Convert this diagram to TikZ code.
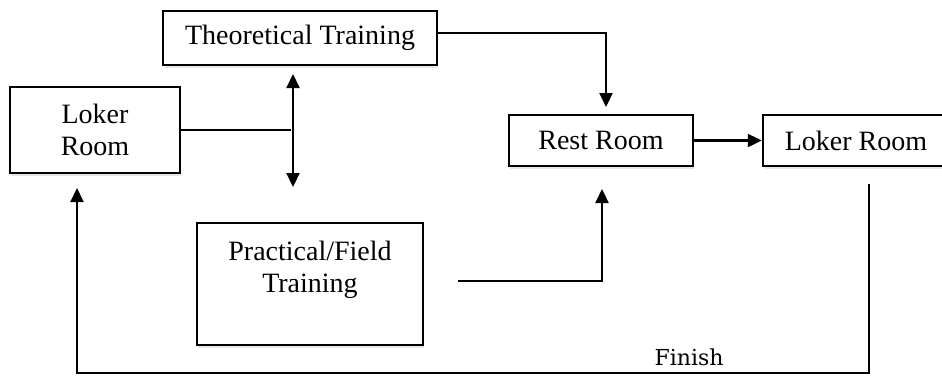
\documentclass[tikz,border=0pt]{standalone}
\usepackage{fontspec}
\setmainfont{Liberation Serif}
\newfontfamily\finishfont{DejaVu Serif}
\usetikzlibrary{arrows.meta,shadows}
\tikzset{
  roombox/.style={draw, line width=2.4pt, fill=white, align=center,
    font=\fontsize{28}{32}\selectfont,
    drop shadow={opacity=0.2, shadow xshift=1pt, shadow yshift=-3pt}},
  flow/.style={line width=2.2pt},
  flowarrow/.style={line width=2.2pt, -{Triangle[length=14pt,width=13pt]}},
}
\begin{document}
\begin{tikzpicture}[x=1pt, y=-1pt]
      \useasboundingbox (0,0) rectangle (942,376);
      %
      \node[roombox, minimum width=274, minimum height=54] (theo) at (300,38) {Theoretical Training};
      \node[roombox, minimum width=170, minimum height=86] (lokerL) at (95,130) {Loker\\Room};
      \node[roombox, minimum width=184, minimum height=51] (rest) at (601,140.5) {Rest Room};
      \node[roombox, minimum width=186, minimum height=51] (lokerR) at (856,140.5) {Loker Room};
      \node[roombox, minimum width=226, minimum height=122] (prac) at (310,284) {Practical/Field\\Training\\[3pt]\mbox{}};
      \node[font=\finishfont\fontsize{22}{26}\selectfont] (finish) at (689,357) {Finish};
      %
      \coordinate (restin) at (606,107);
      \coordinate (restup) at (602,189);
      \coordinate (pracout) at (458,281);
      \coordinate (mid) at (291,130);
      \coordinate (dtop) at (293,74);
      \coordinate (dbot) at (293,187);
      \coordinate (lokout) at (869,184);
      \coordinate (lokin) at (77,188);
      \coordinate (base) at (0,373);
      %
      \draw[flowarrow] ([yshift=5pt]theo.east) -| (restin);
      \draw[flowarrow] (rest.east) -- (lokerR.west);
      \draw[flowarrow] (pracout) -| (restup);
      \draw[flow] (lokerL.east) -- (mid);
      \draw[flowarrow, {Triangle[length=14pt,width=13pt]}-{Triangle[length=14pt,width=13pt]}] (dtop) -- (dbot);
      \draw[flowarrow] (lokout) -- (lokout |- base) -| (lokin);
      %
    \end{tikzpicture}
\end{document}
